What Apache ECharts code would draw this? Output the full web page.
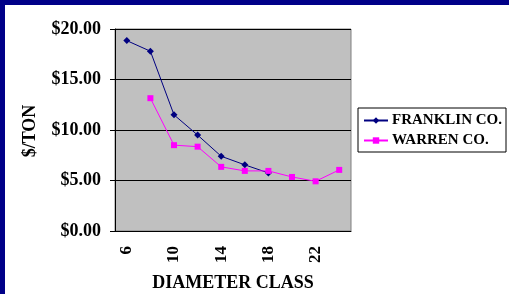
<!DOCTYPE html>
<html>
<head>
<meta charset="utf-8">
<script src="https://cdn.jsdelivr.net/npm/echarts@6/dist/echarts.min.js"></script>
<style>
  html, body { margin: 0; padding: 0; background: #000088; }
  #chart { position: absolute; left: 5px; top: 5px; width: 504px; height: 289px; background: #ffffff; }
</style>
</head>
<body>
<div id="chart"></div>
<script>
// diameter classes on the x axis
var categories = ['6', '8', '10', '12', '14', '16', '18', '20', '22', '24'];
// $/ton
var franklin = [18.85, 17.8, 11.5, 9.5, 7.4, 6.55, 5.75, null, null, null];
var warren = [null, 13.15, 8.5, 8.35, 6.35, 5.95, 5.95, 5.35, 4.92, 6.05];
var seriesNames = ['FRANKLIN CO.', 'WARREN CO.'];
var xTitle = 'DIAMETER CLASS';
var yTitle = '$/TON';

var chart = echarts.init(document.getElementById('chart'));
var font = '"Liberation Serif", "Times New Roman", serif';

var option = {
  animation: false,
  textStyle: { fontFamily: font },
  grid: {
    left: 110, top: 24, width: 236, height: 202,
    outerBoundsMode: 'none',
    containLabel: false,
    show: true, backgroundColor: '#c0c0c0', borderColor: '#808080', borderWidth: 1
  },
  // axis titles placed by hand so ECharts does not push them around
  graphic: [
    {
      type: 'text', x: 228, y: 278,
      style: {
        text: xTitle, font: 'bold 18px ' + font, fill: '#000',
        align: 'center', verticalAlign: 'middle'
      }
    },
    {
      type: 'text', x: 25, y: 126, rotation: Math.PI / 2,
      style: {
        text: yTitle, font: 'bold 18px ' + font, fill: '#000',
        align: 'center', verticalAlign: 'middle'
      }
    }
  ],
  legend: {
    orient: 'vertical',
    left: 353, top: 103,
    padding: [5, 4, 4, 5],
    itemGap: 5,
    itemWidth: 24, itemHeight: 8,
    borderColor: '#000', borderWidth: 1,
    backgroundColor: '#fff',
    textStyle: { fontFamily: font, fontWeight: 'bold', fontSize: 15, color: '#000', padding: [0, 0, 0, -1] },
    data: seriesNames
  },
  xAxis: {
    type: 'category',
    data: categories,
    boundaryGap: true,
    axisLine: { lineStyle: { color: '#000', width: 1 } },
    axisTick: { interval: 0, length: 5, lineStyle: { color: '#000' } },
    axisLabel: {
      interval: 1, rotate: 90, margin: 15,
      fontFamily: font, fontWeight: 'bold', fontSize: 17, color: '#000'
    },
    splitLine: { show: false }
  },
  yAxis: {
    type: 'value',
    min: 0, max: 20, interval: 5,
    axisLine: { show: true, lineStyle: { color: '#000', width: 1 } },
    axisTick: { show: true, length: 5, lineStyle: { color: '#000' } },
    axisLabel: {
      margin: 14,
      fontFamily: font, fontWeight: 'bold', fontSize: 18, color: '#000',
      formatter: function (v) { return '$' + v.toFixed(2); }
    },
    splitLine: { show: true, lineStyle: { color: '#000', width: 1 } }
  },
  series: [
    {
      name: seriesNames[0],
      type: 'line',
      data: franklin,
      symbol: 'diamond',
      symbolSize: 7,
      itemStyle: { color: '#000080' },
      lineStyle: { color: '#000080', width: 1 }
    },
    {
      name: seriesNames[1],
      type: 'line',
      data: warren,
      symbol: 'rect',
      symbolSize: 6,
      itemStyle: { color: '#ff00ff' },
      lineStyle: { color: '#ff00ff', width: 1 }
    }
  ]
};

chart.setOption(option);
</script>
</body>
</html>
